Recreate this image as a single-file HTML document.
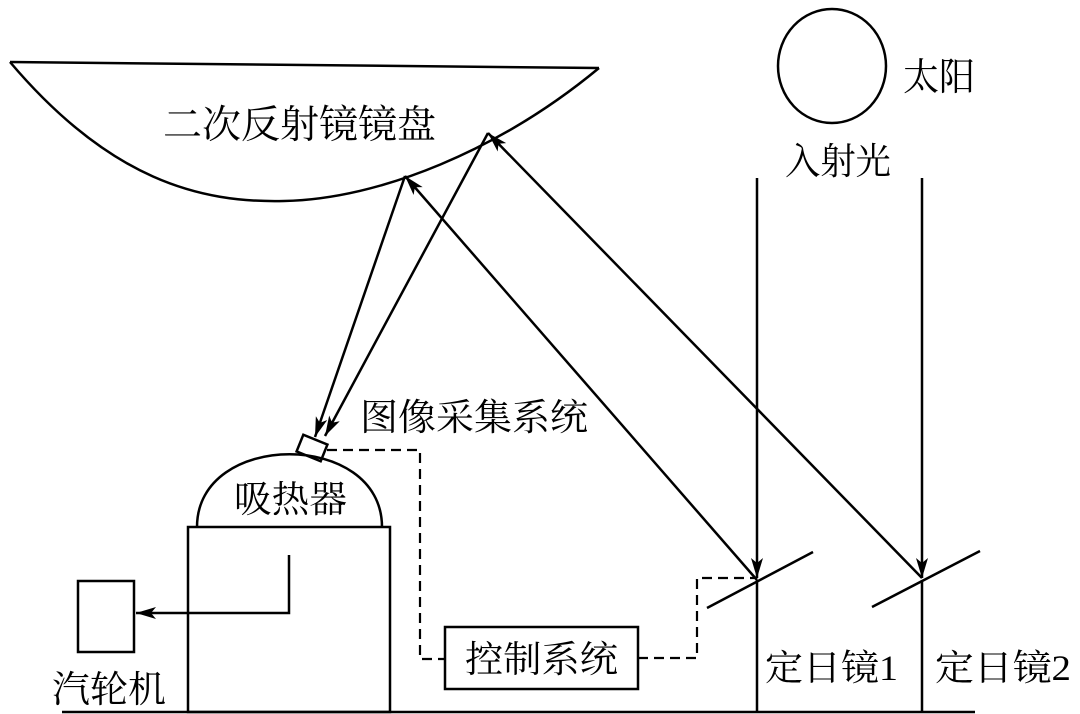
<!DOCTYPE html>
<html><head><meta charset="utf-8"><style>
html,body{margin:0;padding:0;background:#fff;}
svg{display:block;}
text{font-family:"Liberation Serif","Noto Serif CJK SC","Noto Sans CJK SC",serif;fill:#000;}
</style></head><body>
<svg width="1080" height="714" viewBox="0 0 1080 714" xmlns="http://www.w3.org/2000/svg">
<defs>
<marker id="ah" viewBox="0 0 20 12" refX="20" refY="6" markerWidth="20" markerHeight="12" markerUnits="userSpaceOnUse" orient="auto">
<path d="M0,0 L20,6 L0,12 L5,6 Z" fill="#000"/>
</marker>
</defs>
<g stroke="#000" stroke-width="2.5" fill="none">
<path d="M10,62 L599,68"/>
<path d="M10,62 C110,180 200,203 284,201 C380,199 500,150 599,68"/>
<ellipse cx="832" cy="66" rx="54" ry="57"/>
<line x1="757" y1="178" x2="757" y2="578" marker-end="url(#ah)"/>
<line x1="922" y1="178" x2="922" y2="578" marker-end="url(#ah)"/>
<line x1="757" y1="580" x2="757" y2="712"/>
<line x1="922" y1="580" x2="922" y2="712"/>
<line x1="707" y1="608" x2="813" y2="552"/>
<line x1="872" y1="607" x2="980" y2="551"/>
<line x1="757" y1="580" x2="405" y2="176" marker-end="url(#ah)"/>
<line x1="922" y1="578" x2="488" y2="133" marker-end="url(#ah)"/>
<line x1="405" y1="176" x2="315" y2="437" marker-end="url(#ah)"/>
<line x1="488" y1="133" x2="325" y2="436" marker-end="url(#ah)"/>
<rect x="299" y="439" width="26" height="18" transform="rotate(22 312 448)"/>
<path d="M197,527 C197,430 382,430 382,527"/>
<rect x="188" y="527" width="202" height="185"/>
<rect x="78" y="581" width="56" height="71"/>
<polyline points="289,555 289,613 136,613" marker-end="url(#ah)"/>
<rect x="445" y="627" width="193" height="62"/>
<line x1="62" y1="712" x2="975" y2="712"/>
</g>
<g stroke="#000" stroke-width="2.2" fill="none" stroke-dasharray="10,6">
<polyline points="327,450 420,450 420,659 445,659"/>
<polyline points="638,658 697,658 697,578 756,578"/>
</g>
<text x="163" y="138" font-size="39" textLength="273" lengthAdjust="spacingAndGlyphs">二次反射镜镜盘</text>
<text x="903" y="90" font-size="38" textLength="72" lengthAdjust="spacingAndGlyphs">太阳</text>
<text x="785" y="174" font-size="37" textLength="106" lengthAdjust="spacingAndGlyphs">入射光</text>
<text x="360" y="430" font-size="37" textLength="228" lengthAdjust="spacingAndGlyphs">图像采集系统</text>
<text x="234" y="512" font-size="37" textLength="113" lengthAdjust="spacingAndGlyphs">吸热器</text>
<text x="465" y="672" font-size="37" textLength="153" lengthAdjust="spacingAndGlyphs">控制系统</text>
<text x="52" y="702" font-size="37" textLength="114" lengthAdjust="spacingAndGlyphs">汽轮机</text>
<text x="765" y="680" font-size="36" textLength="133" lengthAdjust="spacingAndGlyphs">定日镜1</text>
<text x="935" y="680" font-size="36" textLength="136" lengthAdjust="spacingAndGlyphs">定日镜2</text>
</svg>
</body></html>
